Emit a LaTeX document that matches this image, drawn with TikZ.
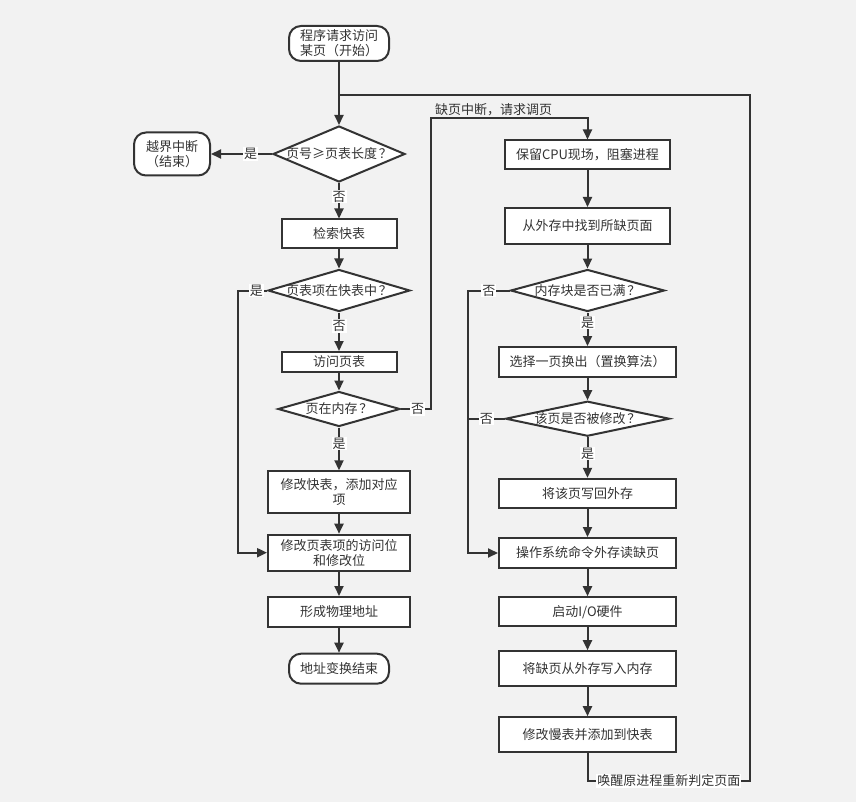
\documentclass[tikz,border=0pt]{standalone}
\usepackage{fontspec}
\setmainfont{Noto Sans CJK SC}
\usetikzlibrary{shapes.geometric,arrows.meta}
\definecolor{ink}{HTML}{333333}
\definecolor{paper}{HTML}{F2F2F2}

\begin{document}
\begin{tikzpicture}[x=1pt,y=-1pt,
  font=\fontsize{13}{15}\selectfont, text=ink,
  box/.style 2 args={rectangle, draw=ink, line width=2pt, fill=white,
    minimum width=#1, minimum height=#2, inner sep=0pt, align=center},
  term/.style 2 args={box={#1}{#2}, rounded corners=12pt},
  dec/.style 2 args={diamond, draw=ink, line width=2pt, fill=white,
    minimum width=#1, minimum height=#2, inner sep=0pt},
  line/.style={draw=ink, line width=2pt},
  arr/.style={line, -{Triangle[length=10pt,width=9pt]}},
  lab/.style={fill=white, inner sep=1pt, text=ink}]

\useasboundingbox[fill=paper] (0,0) rectangle (856,802);

% left column: address translation
\node[term={100pt}{35pt}] (start) at (339,43.5) {程序请求访问\\某页（开始）};
\node[term={76pt}{43pt}] (over) at (172,154) {越界中断\\（结束）};
\node[dec={132pt}{56pt}, label=center:{页号≥页表长度\kern2pt？}] (d1) at (339,154) {};
\node[box={115pt}{29pt}] (s1) at (339,234) {检索快表};
\node[dec={142pt}{42pt}, label=center:{页表项在快表中\kern2pt？}] (d2) at (339,290.5) {};
\node[box={115pt}{20pt}] (visit) at (339,362) {访问页表};
\node[dec={122pt}{35pt}, label=center:{页在内存\kern2pt？}] (d3) at (339,409) {};
\node[box={142pt}{42pt}] (m1) at (339,492.3) {修改快表，添加对应\\项};
\node[box={142pt}{36pt}] (m2) at (339,552.7) {修改页表项的访问位\\和修改位};
\node[box={142pt}{30pt}] (m3) at (339,612) {形成物理地址};
\node[term={100pt}{30pt}] (end) at (339,668.7) {地址变换结束};

% right column: page fault handling
\node[box={165pt}{29pt}] (p1) at (587.5,155) {保留CPU现场，阻塞进程};
\node[box={165pt}{36pt}] (p2) at (587.5,226) {从外存中找到所缺页面};
\node[dec={154pt}{42pt}, label=center:{内存块是否已满\kern2pt？}] (q1) at (587.5,290.5) {};
\node[box={177pt}{30pt}] (q2) at (587.5,362) {选择一页换出（置换算法）};
\node[dec={164pt}{35pt}, label=center:{该页是否被修改\kern2pt？}] (q3) at (587.5,418.7) {};
\node[box={177pt}{29pt}] (wb) at (587.5,493.3) {将该页写回外存};
\node[box={177pt}{30pt}] (r1) at (587.5,553) {操作系统命令外存读缺页};
\node[box={177pt}{29pt}] (r2) at (587.5,611.7) {启动I/O硬件};
\node[box={177pt}{35pt}] (r3) at (587.5,668.7) {将缺页从外存写入内存};
\node[box={177pt}{35pt}] (r4) at (587.5,734.7) {修改慢表并添加到快表};

% bend points
\coordinate (jt) at (339,95);
\coordinate (ct) at (750,95);
\coordinate (cr) at (750,781);
\coordinate (cb) at (587.5,781);
\coordinate (yl1) at (238,290.5);
\coordinate (yl2) at (238,552.7);
\coordinate (nf1) at (431,409);
\coordinate (nf2) at (431,118);
\coordinate (nf3) at (587.5,118);
\coordinate (nl1) at (468,290.5);
\coordinate (nl2) at (468,553);
\coordinate (nl3) at (468,418.7);

% left column connectors
\draw[arr] (start) -- (d1);
\draw[arr] (d1.west) -- (over.east) node[lab, pos=0.35] (l1) {是};
\draw[arr] (d1.south) -- (s1.north) node[lab, pos=0.38] (l2) {否};
\draw[arr] (s1) -- (d2);
\draw[arr] (d2.west) -- (yl1) node[lab, pos=0.37] (l3) {是} -- (yl2) -- (m2.west);
\draw[arr] (d2.south) -- (visit.north) node[lab, pos=0.35] (l4) {否};
\draw[arr] (visit) -- (d3);
\draw[arr] (d3.south) -- (m1.north) node[lab, pos=0.37] (l5) {是};
\draw[arr] (m1) -- (m2);
\draw[arr] (m2) -- (m3);
\draw[arr] (m3) -- (end);

% page fault branch
\draw[arr] (d3.east) -- (nf1) node[lab, pos=0.55] (l6) {否} -- (nf2) -- (nf3) -- (p1.north);
\node[anchor=west, inner sep=0pt] (lq) at (435,110) {缺页中断，请求调页};

% right column connectors
\draw[arr] (p1) -- (p2);
\draw[arr] (p2) -- (q1);
\draw[arr] (q1.west) -- (nl1) node[lab, midway] (l7) {否} -- (nl2) -- (r1.west);
\draw[arr] (q1.south) -- (q2.north) node[lab, pos=0.3] (l8) {是};
\draw[arr] (q2) -- (q3);
\draw[line] (q3.west) -- (nl3) node[lab, midway] (l9) {否};
\draw[arr] (q3.south) -- (wb.north) node[lab, pos=0.4] (l10) {是};
\draw[arr] (wb) -- (r1);
\draw[arr] (r1) -- (r2);
\draw[arr] (r2) -- (r3);
\draw[arr] (r3) -- (r4);

% return loop to the start
\draw[line] (r4.south) -- (cb) -- (cr) node[lab, midway] (l11) {唤醒原进程重新判定页面} -- (ct) -- (jt);
\end{tikzpicture}
\end{document}
